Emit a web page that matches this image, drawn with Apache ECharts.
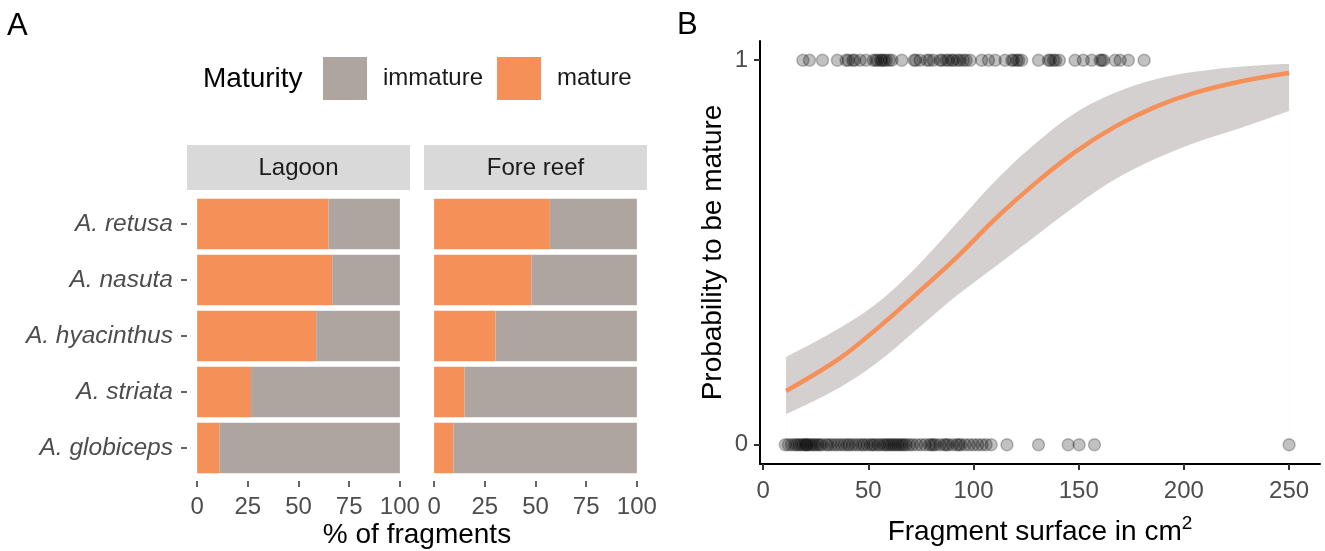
<!DOCTYPE html>
<html>
<head>
<meta charset="utf-8">
<script src="https://cdn.jsdelivr.net/npm/echarts@6/dist/echarts.min.js"></script>
<style>html,body{margin:0;padding:0;background:#fff;}#c{width:1325px;height:551px;}</style>
</head>
<body>
<div id="c"></div>
<script>
// ---------- Panel A data ----------
var species = ['A. retusa', 'A. nasuta', 'A. hyacinthus', 'A. striata', 'A. globiceps'];
var lagoonMature   = [64.8, 66.6, 58.7, 26.6, 11.0];
var lagoonImmature = [35.2, 33.4, 41.3, 73.4, 89.0];
var foreMature     = [57.1, 48.0, 30.3, 15.0, 9.5];
var foreImmature   = [42.9, 52.0, 69.7, 85.0, 90.5];
var pctTicks = [0, 25, 50, 75, 100];

// ---------- Panel B data ----------
var matureX = [18.9, 22.0, 28.2, 35.3, 39.4, 40.5, 42.6, 43.5, 46.1, 48.9, 52.4, 53.5, 54.5, 55.9, 56.5, 57.5, 58.5, 60.0, 61.2, 65.9,
  71.8, 72.5, 74.6, 77.8, 79.0, 80.9, 84.1, 85.0, 87.0, 88.0, 89.7, 90.5, 92.4, 93.5, 95.2, 96.5, 98.4, 103.9, 107.1, 110.3,
  115.0, 118.2, 119.0, 120.6, 121.5, 122.9, 130.9, 135.6, 136.5, 138.0, 139.0, 140.8, 148.3, 152.2, 156.2, 160.2, 161.0, 161.8,
  167.3, 169.7, 173.6, 181.1];
var immatureX = [10.5, 12, 13.5, 15, 16, 17, 18, 19, 20, 20.5, 21, 22, 23, 24, 25, 26, 27, 28, 30, 31, 32.5, 34, 35.5, 37,
  38.5, 40, 41, 42.5, 44, 45.5, 47, 48, 49.5, 51, 52, 53, 54.5, 55.5, 57, 58, 59, 60, 61, 62, 63, 64, 65, 66, 67, 68, 69.5,
  71, 73, 75, 77, 79, 80, 81, 82, 84, 86, 87, 88, 90, 92, 93, 94, 96, 98, 100, 102, 104, 106, 108.4,
  115.9, 130.9, 145.0, 150.2, 157.5, 250.0];
var fitX     = [10.9, 36.2, 55.0, 73.7, 92.5, 111.2, 130.0, 148.7, 167.5, 186.2, 205.0, 228.0, 250.0];
var fitY     = [0.140, 0.224, 0.306, 0.396, 0.490, 0.592, 0.683, 0.763, 0.828, 0.878, 0.915, 0.946, 0.967];
var fitUpper = [0.228, 0.303, 0.372, 0.467, 0.579, 0.691, 0.786, 0.864, 0.916, 0.950, 0.970, 0.984, 0.991];
var fitLower = [0.079, 0.148, 0.217, 0.303, 0.390, 0.467, 0.545, 0.622, 0.691, 0.743, 0.785, 0.826, 0.868];
var surfTicks = [0, 50, 100, 150, 200, 250];
var probTicks = [0, 1];

// ---------- styles ----------
var FONT = '"Liberation Sans", Arial, Helvetica, sans-serif';
var ORANGE = '#F69059';
var GREY = '#AEA4A0';
var BAND = '#D4D0CF';
var TICKCOL = '#333333';
var LABCOL = '#4d4d4d';
var SMOOTH = 0.35;

function pairs(xs, ys) { return xs.map(function (x, i) { return [x, ys[i]]; }); }
function constPairs(xs, y) { return xs.map(function (x) { return [x, y]; }); }

var chart = echarts.init(document.getElementById('c'), null, { renderer: 'canvas' });

function pctXAxis(gi) {
  return {
    type: 'value', gridIndex: gi, min: -5, max: 105, offset: 5,
    splitLine: { show: false },
    axisLine: { show: false, onZero: false },
    axisTick: { show: true, length: 6, customValues: pctTicks, lineStyle: { color: TICKCOL, width: 1.5 } },
    axisLabel: { customValues: pctTicks, color: LABCOL, fontSize: 24, fontFamily: FONT, margin: 14 }
  };
}
function speciesYAxis(gi, showLab) {
  return {
    type: 'category', gridIndex: gi, data: species, inverse: true,
    axisLine: { show: false, onZero: false },
    axisTick: { show: showLab, alignWithLabel: true, length: 6, lineStyle: { color: TICKCOL, width: 1.5 } },
    axisLabel: { show: showLab, color: LABCOL, fontSize: 24.5, fontStyle: 'italic', fontFamily: FONT, margin: 14 },
    splitLine: { show: false }
  };
}
function bar(name, gi, data, color, stack) {
  return {
    type: 'bar', name: name, xAxisIndex: gi, yAxisIndex: gi, stack: stack, data: data,
    barWidth: '90%', itemStyle: { color: color }, silent: true
  };
}

var option = {
  animation: false,
  backgroundColor: '#ffffff',
  textStyle: { fontFamily: FONT },
  grid: [
    { left: 187, top: 196, width: 223, height: 280 },
    { left: 424, top: 196, width: 223, height: 280 },
    { left: 760, top: 41, width: 560, height: 425 }
  ],
  legend: {
    left: 323, top: 57, padding: 0, itemWidth: 44, itemHeight: 43, itemGap: 14,
    icon: 'rect', selectedMode: false,
    data: ['immature', 'mature'],
    textStyle: { fontSize: 24, color: '#1a1a1a', fontFamily: FONT, padding: [3, 0, 0, 11] }
  },
  xAxis: [
    pctXAxis(0),
    pctXAxis(1),
    {
      type: 'value', gridIndex: 2, min: -1.5, max: 264.7, z: 10,
      splitLine: { show: false },
      axisLine: { show: true, onZero: false, lineStyle: { color: '#000', width: 2 } },
      axisTick: { show: true, length: 6, customValues: surfTicks, lineStyle: { color: TICKCOL, width: 2 } },
      axisLabel: { customValues: surfTicks, color: LABCOL, fontSize: 24, fontFamily: FONT, margin: 15 },
      name: '{b|Fragment surface in cm}{s|2}', nameLocation: 'middle', nameGap: 50,
      nameTextStyle: {
        rich: {
          b: { fontSize: 28, color: '#000', fontFamily: FONT, lineHeight: 32, verticalAlign: 'bottom' },
          s: { fontSize: 19, color: '#000', fontFamily: FONT, lineHeight: 32, verticalAlign: 'top' }
        }
      }
    }
  ],
  yAxis: [
    speciesYAxis(0, true),
    speciesYAxis(1, false),
    {
      type: 'value', gridIndex: 2, min: -0.05, max: 1.05, z: 10,
      splitLine: { show: false },
      axisLine: { show: true, onZero: false, lineStyle: { color: '#000', width: 2 } },
      axisTick: { show: true, length: 6, customValues: probTicks, lineStyle: { color: TICKCOL, width: 2 } },
      axisLabel: { customValues: probTicks, color: LABCOL, fontSize: 24, fontFamily: FONT, margin: 12 },
      name: 'Probability to be mature', nameLocation: 'middle', nameGap: 33,
      nameTextStyle: { fontSize: 28, color: '#000', fontFamily: FONT }
    }
  ],
  series: [
    bar('mature', 0, lagoonMature, ORANGE, 'lag'),
    bar('immature', 0, lagoonImmature, GREY, 'lag'),
    bar('mature', 1, foreMature, ORANGE, 'fore'),
    bar('immature', 1, foreImmature, GREY, 'fore'),
    {
      // confidence band: upper edge filled down to the axis ...
      type: 'line', xAxisIndex: 2, yAxisIndex: 2, data: pairs(fitX, fitUpper),
      smooth: SMOOTH, symbol: 'none', lineStyle: { width: 0, opacity: 0 },
      areaStyle: { color: BAND, opacity: 1, origin: 'start' }, silent: true, z: 1
    },
    {
      // ... and the part below the lower edge masked in white
      type: 'line', xAxisIndex: 2, yAxisIndex: 2, data: pairs(fitX, fitLower),
      smooth: SMOOTH, symbol: 'none', lineStyle: { width: 0, opacity: 0 },
      areaStyle: { color: '#ffffff', opacity: 1, origin: 'start' }, silent: true, z: 2
    },
    {
      type: 'scatter', xAxisIndex: 2, yAxisIndex: 2, data: constPairs(matureX, 1), symbolSize: 12,
      itemStyle: { color: 'rgba(0,0,0,0.3)', borderColor: 'rgba(0,0,0,0.3)', borderWidth: 1.5 }, silent: true, z: 3
    },
    {
      type: 'scatter', xAxisIndex: 2, yAxisIndex: 2, data: constPairs(immatureX, 0), symbolSize: 12,
      itemStyle: { color: 'rgba(0,0,0,0.3)', borderColor: 'rgba(0,0,0,0.3)', borderWidth: 1.5 }, silent: true, z: 3
    },
    {
      type: 'line', xAxisIndex: 2, yAxisIndex: 2, data: pairs(fitX, fitY),
      smooth: SMOOTH, symbol: 'none', lineStyle: { color: ORANGE, width: 4.5 }, silent: true, z: 4
    }
  ],
  graphic: [
    { type: 'rect', shape: { x: 187, y: 145, width: 223, height: 45 }, style: { fill: '#D9D9D9' }, silent: true },
    { type: 'rect', shape: { x: 424, y: 145, width: 223, height: 45 }, style: { fill: '#D9D9D9' }, silent: true },
    { type: 'text', x: 298.5, y: 168, silent: true,
      style: { text: 'Lagoon', fill: '#1a1a1a', font: '24px ' + FONT, textAlign: 'center', textVerticalAlign: 'middle' } },
    { type: 'text', x: 535.5, y: 168, silent: true,
      style: { text: 'Fore reef', fill: '#1a1a1a', font: '24px ' + FONT, textAlign: 'center', textVerticalAlign: 'middle' } },
    { type: 'text', x: 203, y: 79, silent: true,
      style: { text: 'Maturity', fill: '#000', font: '28px ' + FONT, textAlign: 'left', textVerticalAlign: 'middle' } },
    { type: 'text', x: 417, y: 535, silent: true,
      style: { text: '% of fragments', fill: '#000', font: '28px ' + FONT, textAlign: 'center', textVerticalAlign: 'middle' } },
    { type: 'text', x: 7, y: 26, silent: true,
      style: { text: 'A', fill: '#000', font: '31px ' + FONT, textAlign: 'left', textVerticalAlign: 'middle' } },
    { type: 'text', x: 677, y: 25, silent: true,
      style: { text: 'B', fill: '#000', font: '31px ' + FONT, textAlign: 'left', textVerticalAlign: 'middle' } }
  ]
};
chart.setOption(option);
</script>
</body>
</html>
